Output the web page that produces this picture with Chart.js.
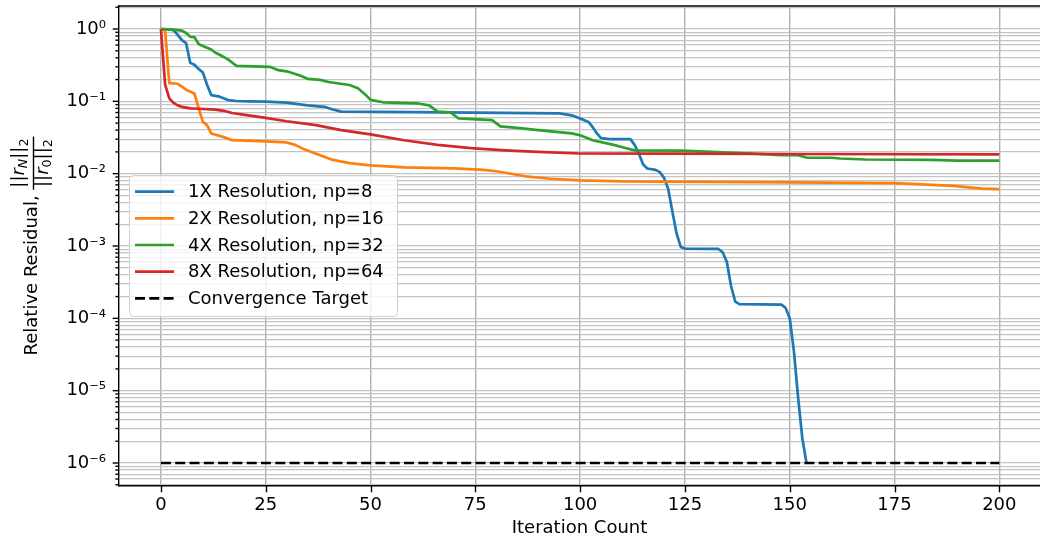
<!DOCTYPE html>
<html>
<head>
<meta charset="utf-8">
<script src="https://cdn.jsdelivr.net/npm/chart.js@4.4.1/dist/chart.umd.min.js"></script>
<style>
  html, body { margin: 0; padding: 0; background: #fff; }
  #wrap { width: 1040px; height: 542px; }
</style>
</head>
<body>
<div id="wrap"><canvas id="chart" width="1040" height="542"></canvas></div>
<script>
// values (iteration, relative residual)
const iter1x = [0, 2, 3, 4, 5, 6, 7, 8, 9, 10, 11, 12, 14, 16, 18, 21, 25, 30, 35, 39, 41, 43, 60, 75, 95, 98, 100, 102, 103, 104, 105, 107, 112, 113, 114, 115, 116, 118, 119, 120, 121, 122, 123, 124, 125, 133, 134, 135, 136, 137, 138, 148, 149, 150, 151, 152, 153, 154];
const res1x = [1.0, 0.99, 0.96, 0.83, 0.70, 0.64, 0.34, 0.32, 0.28, 0.25, 0.17, 0.122, 0.116, 0.104, 0.101, 0.100, 0.099, 0.096, 0.088, 0.084, 0.077, 0.072, 0.071, 0.070, 0.068, 0.064, 0.058, 0.052, 0.044, 0.036, 0.031, 0.030, 0.030, 0.025, 0.019, 0.0135, 0.0118, 0.0113, 0.0105, 0.0088, 0.0062, 0.003, 0.0015, 0.00097, 0.00092, 0.00091, 0.00082, 0.0006, 0.00028, 0.00017, 0.000157, 0.000155, 0.00014, 0.0001, 3.5e-5, 8e-6, 2.2e-6, 1e-6];

const iter2x = [0, 1, 2, 4, 5, 6, 8, 9, 10, 11, 12, 15, 17, 25, 30, 32, 34, 38, 41, 45, 50, 58, 70, 77, 80, 87, 93, 100, 110, 130, 150, 175, 189, 196, 200];
const res2x = [1.0, 0.95, 0.178, 0.175, 0.16, 0.145, 0.128, 0.08, 0.052, 0.047, 0.036, 0.032, 0.029, 0.028, 0.027, 0.025, 0.022, 0.018, 0.0155, 0.014, 0.013, 0.0122, 0.0118, 0.0113, 0.0108, 0.0092, 0.0085, 0.0081, 0.0078, 0.0077, 0.0076, 0.0074, 0.0068, 0.0062, 0.0061];

const iter4x = [0, 3, 5, 6, 7, 8, 9, 10, 12, 13, 14, 16, 18, 26, 28, 30, 33, 35, 38, 40, 42, 45, 47, 49, 50, 53, 61, 64, 66, 69, 71, 79, 81, 85, 90, 98, 100, 103, 108, 111, 113, 124, 140, 148, 152, 154, 160, 162, 168, 184, 190, 200];
const res4x = [1.0, 0.98, 0.95, 0.88, 0.78, 0.77, 0.62, 0.58, 0.52, 0.47, 0.44, 0.38, 0.31, 0.30, 0.27, 0.26, 0.23, 0.205, 0.198, 0.185, 0.178, 0.168, 0.152, 0.12, 0.105, 0.097, 0.094, 0.088, 0.072, 0.0706, 0.058, 0.055, 0.045, 0.043, 0.040, 0.036, 0.034, 0.029, 0.025, 0.0225, 0.021, 0.0208, 0.0191, 0.018, 0.018, 0.0167, 0.0166, 0.0162, 0.0157, 0.0155, 0.0151, 0.0151];

const iter8x = [0, 1, 2, 3, 4, 5, 7, 9, 13, 15, 17, 20, 25, 30, 37, 43, 50, 58, 66, 74, 82, 90, 100, 120, 150, 200];
const res8x = [1.0, 0.17, 0.11, 0.095, 0.088, 0.084, 0.080, 0.079, 0.077, 0.074, 0.069, 0.065, 0.059, 0.053, 0.047, 0.040, 0.035, 0.029, 0.025, 0.0225, 0.021, 0.020, 0.019, 0.0189, 0.0187, 0.0185];

const targetIter = [0, 200];
const targetRes = [1e-6, 1e-6];

const seriesLabels = ['1X Resolution, np=8', '2X Resolution, np=16', '4X Resolution, np=32', '8X Resolution, np=64', 'Convergence Target'];
const seriesColors = ['#1f77b4', '#ff7f0e', '#2ca02c', '#d62728', '#000000'];

const xTicks = [0, 25, 50, 75, 100, 125, 150, 175, 200];
const yDecades = [-7, -6, -5, -4, -3, -2, -1, 0];

const FONT = '"DejaVu Sans", sans-serif';
Chart.defaults.color = '#000';
Chart.defaults.font.family = FONT;
Chart.defaults.font.size = 18;

const sup = { '-': '\u207B', '0': '\u2070', '1': '\u00B9', '2': '\u00B2', '3': '\u00B3', '4': '\u2074', '5': '\u2075', '6': '\u2076', '7': '\u2077', '8': '\u2078', '9': '\u2079' };
function powLabel(k) {
    return '10' + String(k).split('').map(c => sup[c]).join('');
}
function isDecade(v) {
    const k = Math.round(Math.log10(v));
    return Math.abs(v - Math.pow(10, k)) < 1e-6 * Math.pow(10, k);
}
function toPoints(xs, ys) {
    return xs.map((x, i) => ({ x: x, y: ys[i] }));
}

const yMin = Math.pow(10, -6.318);
const yMax = Math.pow(10, 0.318);

// major/minor tick marks, drawn by hand since tickLength is one value per axis
const tickMarks = {
    id: 'tickMarks',
    afterDraw(chart) {
        const ctx = chart.ctx;
        const xs = chart.scales.x, ys = chart.scales.y;
        const area = chart.chartArea;
        ctx.save();
        ctx.strokeStyle = '#000';
        ctx.lineWidth = 1.4;
        xs.ticks.forEach(t => {
            const px = Math.round(xs.getPixelForValue(t.value)) + 0.5;
            ctx.beginPath();
            ctx.moveTo(px, area.bottom);
            ctx.lineTo(px, area.bottom + 6.3);
            ctx.stroke();
        });
        ys.ticks.forEach(t => {
            const py = ys.getPixelForValue(t.value);
            const len = isDecade(t.value) ? 6.3 : 3.6;
            ctx.beginPath();
            ctx.moveTo(area.left, py);
            ctx.lineTo(area.left - len, py);
            ctx.stroke();
        });
        // top spine
        ctx.beginPath();
        ctx.moveTo(area.left, area.top);
        ctx.lineTo(area.right, area.top);
        ctx.stroke();
        ctx.restore();
    }
};

// y axis title with the norm fraction
const yTitle = {
    id: 'yTitle',
    afterDraw(chart) {
        const ctx = chart.ctx;
        const area = chart.chartArea;
        const base = '18px ' + FONT;
        const ital = 'italic 18px ' + FONT;
        const small = '12.6px ' + FONT;
        const smallItal = 'italic 12.6px ' + FONT;
        const lead = 'Relative Residual, ';
        const num = [['||', base, 0], ['r', ital, 0], ['N', smallItal, 3], ['||', base, 0], ['2', small, 4]];
        const den = [['||', base, 0], ['r', ital, 0], ['0', small, 3], ['||', base, 0], ['2', small, 4]];
        ctx.save();
        const width = parts => parts.reduce((w, p) => { ctx.font = p[1]; return w + ctx.measureText(p[0]).width; }, 0);
        ctx.font = base;
        const leadW = ctx.measureText(lead).width;
        const fracW = Math.max(width(num), width(den)) + 4;
        const total = leadW + fracW;
        const cy = (area.top + area.bottom) / 2;
        ctx.translate(37, cy + total / 2);
        ctx.rotate(-Math.PI / 2);
        ctx.fillStyle = '#000';
        ctx.textBaseline = 'alphabetic';
        ctx.textAlign = 'left';
        ctx.font = base;
        ctx.fillText(lead, 0, 0);
        const drawParts = (parts, u0, v) => {
            let u = u0;
            parts.forEach(p => {
                ctx.font = p[1];
                ctx.fillText(p[0], u, v + p[2]);
                u += ctx.measureText(p[0]).width;
            });
        };
        const fx = leadW;
        drawParts(num, fx + (fracW - width(num)) / 2, -13);
        drawParts(den, fx + (fracW - width(den)) / 2, 10.5);
        ctx.fillRect(fx, -4.2, fracW, 1.4);
        ctx.restore();
    }
};

// legend box inside the plot, matplotlib style
const boxLegend = {
    id: 'boxLegend',
    afterDraw(chart) {
        const ctx = chart.ctx;
        const area = chart.chartArea;
        const x0 = area.left + 10, y0 = area.top + 169, w = 268, h = 141;
        ctx.save();
        ctx.beginPath();
        ctx.roundRect(x0 + 0.5, y0 + 0.5, w, h, 4);
        ctx.fillStyle = 'rgba(255,255,255,0.8)';
        ctx.fill();
        ctx.strokeStyle = '#d0d0d0';
        ctx.lineWidth = 1;
        ctx.stroke();
        ctx.font = '18px ' + FONT;
        ctx.textBaseline = 'middle';
        ctx.textAlign = 'left';
        chart.data.datasets.forEach((ds, i) => {
            const cy = y0 + 16.7 + i * 26.65;
            ctx.strokeStyle = ds.borderColor;
            ctx.lineWidth = ds.borderWidth;
            ctx.setLineDash(ds.borderDash || []);
            ctx.beginPath();
            ctx.moveTo(x0 + 6, cy);
            ctx.lineTo(x0 + 45, cy);
            ctx.stroke();
            ctx.setLineDash([]);
            ctx.fillStyle = '#000';
            ctx.fillText(ds.label, x0 + 59, cy + 1);
        });
        ctx.restore();
    }
};

const allIters = [iter1x, iter2x, iter4x, iter8x, targetIter];
const allRes = [res1x, res2x, res4x, res8x, targetRes];

const datasets = seriesLabels.map((label, i) => ({
    label: label,
    data: toPoints(allIters[i], allRes[i]),
    borderColor: seriesColors[i],
    backgroundColor: seriesColors[i],
    borderWidth: 2.7,
    borderDash: i === 4 ? [10, 4.3] : [],
    borderJoinStyle: 'round',
    pointRadius: 0,
    tension: 0,
    order: 5 - i
}));

new Chart(document.getElementById('chart'), {
    type: 'line',
    data: { datasets: datasets },
    options: {
        responsive: false,
        animation: false,
        devicePixelRatio: 1,
        layout: { padding: { top: 6, right: 0, left: 0, bottom: 0 } },
        plugins: {
            legend: { display: false },
            tooltip: { enabled: false }
        },
        scales: {
            x: {
                type: 'linear',
                min: -10,
                max: 209.7,
                afterBuildTicks: scale => { scale.ticks = xTicks.map(v => ({ value: v })); },
                afterFit: scale => { scale.height = 56; scale.paddingLeft = 0; scale.paddingRight = 0; },
                ticks: { padding: 9, maxRotation: 0, callback: v => String(v), font: { size: 18 } },
                grid: { color: '#b0b0b0', lineWidth: 1.4, drawTicks: false },
                border: { display: true, color: '#000', width: 1.4 },
                title: { display: true, text: 'Iteration Count', font: { size: 18 }, padding: { top: 0, bottom: 3 } }
            },
            y: {
                type: 'logarithmic',
                min: yMin,
                max: yMax,
                afterBuildTicks: scale => {
                    const t = [];
                    yDecades.forEach(k => {
                        for (let m = 1; m <= 9; m++) {
                            const v = m * Math.pow(10, k);
                            if (v >= yMin && v <= yMax) t.push({ value: v });
                        }
                    });
                    scale.ticks = t;
                },
                afterFit: scale => { scale.width = 119; scale.paddingTop = 0; scale.paddingBottom = 0; },
                ticks: {
                    padding: 13,
                    autoSkip: false,
                    font: { size: 18 },
                    callback: v => isDecade(v) ? powLabel(Math.round(Math.log10(v))) : ''
                },
                grid: { color: '#c4c4c4', lineWidth: 1.3, drawTicks: false },
                border: { display: true, color: '#000', width: 1.4 }
            }
        }
    },
    plugins: [tickMarks, yTitle, boxLegend]
});
</script>
</body>
</html>
